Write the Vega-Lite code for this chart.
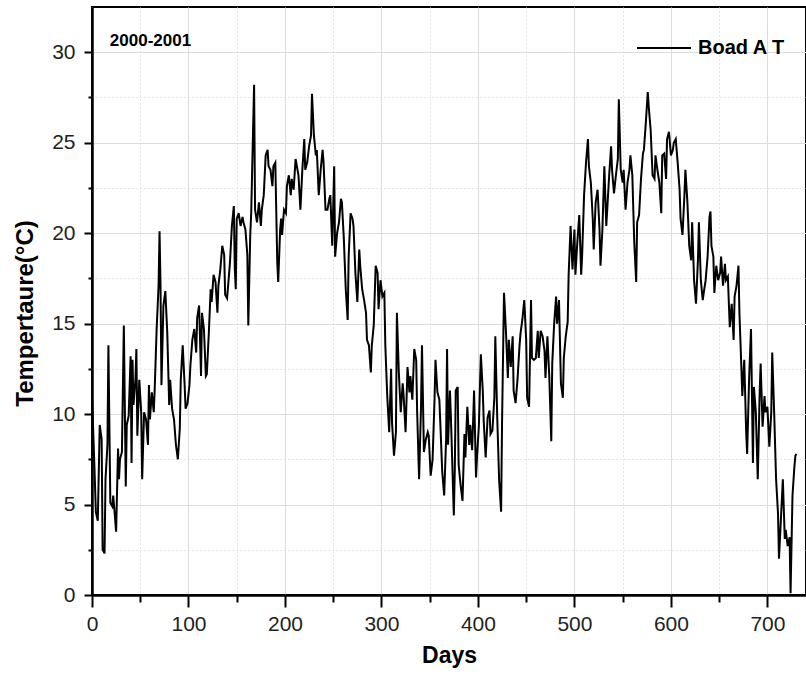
{
  "$schema": "https://vega.github.io/schema/vega-lite/v6.json",
  "width": 714,
  "height": 588,
  "autosize": {"type": "none"},
  "padding": {"left": 92, "top": 7, "right": 0, "bottom": 80},
  "background": "white",
  "config": {
    "view": {"stroke": "black", "strokeWidth": 2},
    "font": "Liberation Sans"
  },
  "layer": [
    {
      "data": {"values": [
        {"d":0,"t":11.0},{"d":2,"t":7.9},{"d":4,"t":4.6},{"d":6,"t":4.1},{"d":8,"t":9.4},{"d":10,"t":8.6},{"d":11,"t":2.5},{"d":13,"t":2.3},{"d":14,"t":6.4},{"d":16,"t":8.3},{"d":17,"t":13.8},{"d":19,"t":5.1},{"d":21,"t":4.9},{"d":22,"t":5.5},{"d":25,"t":3.5},{"d":27,"t":8.1},{"d":28,"t":6.4},{"d":29,"t":7.5},{"d":31,"t":7.9},{"d":33,"t":14.9},{"d":35,"t":6.0},{"d":36,"t":9.4},{"d":38,"t":9.9},{"d":40,"t":13.2},{"d":41,"t":7.3},{"d":42,"t":13.0},{"d":43,"t":10.5},{"d":45,"t":11.9},{"d":46,"t":13.6},{"d":47,"t":8.8},{"d":49,"t":11.9},{"d":51,"t":10.1},{"d":52,"t":6.4},{"d":54,"t":10.1},{"d":56,"t":9.7},{"d":58,"t":8.3},{"d":59,"t":11.6},{"d":60,"t":9.7},{"d":62,"t":11.2},{"d":64,"t":10.1},{"d":65,"t":11.4},{"d":67,"t":14.7},{"d":69,"t":17.1},{"d":70,"t":20.1},{"d":71,"t":17.1},{"d":72,"t":11.6},{"d":74,"t":16.0},{"d":75,"t":16.4},{"d":76,"t":16.8},{"d":78,"t":14.5},{"d":80,"t":10.5},{"d":81,"t":11.9},{"d":83,"t":10.3},{"d":85,"t":9.7},{"d":87,"t":8.3},{"d":89,"t":7.5},{"d":91,"t":9.2},{"d":92,"t":11.9},{"d":94,"t":13.8},{"d":96,"t":11.6},{"d":97,"t":10.3},{"d":99,"t":10.6},{"d":101,"t":11.6},{"d":102,"t":12.7},{"d":104,"t":14.1},{"d":106,"t":14.7},{"d":108,"t":13.4},{"d":109,"t":15.3},{"d":111,"t":16.0},{"d":113,"t":12.1},{"d":114,"t":15.6},{"d":116,"t":14.7},{"d":118,"t":12.1},
        {"d":119,"t":12.2},{"d":121,"t":14.4},{"d":123,"t":16.9},{"d":124,"t":16.2},{"d":126,"t":17.7},{"d":128,"t":17.3},{"d":130,"t":15.6},{"d":131,"t":17.1},{"d":133,"t":18.0},{"d":135,"t":19.3},{"d":137,"t":18.8},{"d":138,"t":16.6},{"d":140,"t":16.4},{"d":142,"t":17.7},{"d":143,"t":18.4},{"d":145,"t":20.4},{"d":147,"t":21.5},{"d":148,"t":18.0},{"d":149,"t":16.9},{"d":150,"t":20.8},{"d":152,"t":21.1},{"d":154,"t":20.4},{"d":156,"t":20.9},{"d":157,"t":20.6},{"d":159,"t":20.2},{"d":161,"t":18.8},{"d":162,"t":14.9},{"d":164,"t":19.9},{"d":165,"t":21.1},{"d":166,"t":23.5},{"d":168,"t":28.2},{"d":169,"t":21.3},{"d":171,"t":20.6},{"d":173,"t":21.7},{"d":175,"t":20.4},{"d":176,"t":21.3},{"d":178,"t":22.1},{"d":180,"t":24.3},{"d":182,"t":24.6},{"d":183,"t":23.7},{"d":185,"t":23.5},{"d":187,"t":22.6},{"d":188,"t":23.7},{"d":190,"t":23.9},{"d":192,"t":18.4},{"d":193,"t":17.3},{"d":195,"t":20.2},{"d":196,"t":20.8},{"d":197,"t":19.9},{"d":199,"t":21.3},{"d":201,"t":21.1},{"d":202,"t":22.6},{"d":204,"t":23.2},{"d":206,"t":22.1},{"d":207,"t":23.0},{"d":209,"t":22.4},{"d":211,"t":24.1},{"d":213,"t":23.5},{"d":214,"t":23.2},{"d":216,"t":21.3},{"d":218,"t":23.5},{"d":220,"t":25.2},{"d":221,"t":23.5},{"d":223,"t":23.9},{"d":225,"t":24.8},{"d":227,"t":25.4},{"d":228,"t":27.7},{"d":230,"t":25.4},{"d":232,"t":24.3},{"d":233,"t":24.6},{"d":235,"t":22.1},{"d":237,"t":23.5},{"d":239,"t":24.6},{"d":240,"t":23.9},{"d":242,"t":21.3},
        {"d":244,"t":21.3},{"d":246,"t":21.9},{"d":247,"t":22.1},{"d":249,"t":19.3},{"d":251,"t":23.7},{"d":252,"t":18.7},{"d":254,"t":20.0},{"d":256,"t":20.6},{"d":258,"t":21.9},{"d":259,"t":21.7},{"d":261,"t":19.7},{"d":263,"t":16.9},{"d":265,"t":15.2},{"d":266,"t":18.7},{"d":268,"t":21.1},{"d":270,"t":20.8},{"d":271,"t":20.4},{"d":273,"t":17.8},{"d":275,"t":16.2},{"d":277,"t":19.1},{"d":278,"t":18.2},{"d":280,"t":16.9},{"d":282,"t":16.3},{"d":284,"t":15.6},{"d":285,"t":14.1},{"d":287,"t":13.8},{"d":289,"t":12.3},{"d":290,"t":13.8},{"d":292,"t":14.9},{"d":294,"t":18.2},{"d":296,"t":17.8},{"d":297,"t":15.8},{"d":299,"t":17.4},{"d":301,"t":16.5},{"d":303,"t":16.7},{"d":304,"t":13.8},{"d":306,"t":11.0},{"d":308,"t":9.0},{"d":310,"t":12.5},{"d":311,"t":9.5},{"d":313,"t":7.7},{"d":315,"t":9.0},{"d":316,"t":15.6},{"d":318,"t":12.3},{"d":320,"t":10.1},{"d":322,"t":11.7},{"d":323,"t":11.0},{"d":325,"t":9.0},{"d":327,"t":12.6},{"d":329,"t":11.2},{"d":330,"t":12.1},{"d":332,"t":10.8},{"d":334,"t":13.6},{"d":336,"t":13.0},{"d":337,"t":10.1},{"d":339,"t":6.4},{"d":341,"t":10.4},{"d":342,"t":13.8},{"d":344,"t":7.9},{"d":346,"t":8.6},{"d":348,"t":9.0},{"d":349,"t":8.8},{"d":351,"t":6.6},{"d":353,"t":7.5},{"d":355,"t":10.8},{"d":356,"t":13.0},{"d":358,"t":11.2},{"d":360,"t":10.8},{"d":361,"t":9.5},{"d":363,"t":6.8},{"d":365,"t":5.5},{"d":367,"t":8.6},{"d":368,"t":13.6},{"d":369,"t":8.3},{"d":371,"t":11.3},{"d":372,"t":9.8},
        {"d":375,"t":4.4},{"d":376,"t":6.9},{"d":377,"t":11.3},{"d":379,"t":11.5},{"d":380,"t":7.2},{"d":382,"t":6.1},{"d":384,"t":5.2},{"d":386,"t":8.9},{"d":387,"t":7.6},{"d":389,"t":10.4},{"d":391,"t":8.3},{"d":392,"t":9.4},{"d":394,"t":8.0},{"d":396,"t":11.3},{"d":398,"t":6.5},{"d":399,"t":7.6},{"d":401,"t":9.4},{"d":403,"t":13.3},{"d":405,"t":11.3},{"d":406,"t":9.6},{"d":408,"t":7.6},{"d":410,"t":9.8},{"d":412,"t":10.2},{"d":413,"t":8.9},{"d":415,"t":9.1},{"d":417,"t":10.9},{"d":418,"t":14.3},{"d":420,"t":9.8},{"d":422,"t":6.3},{"d":424,"t":4.6},{"d":425,"t":9.6},{"d":427,"t":16.7},{"d":429,"t":14.6},{"d":431,"t":12.0},{"d":432,"t":14.1},{"d":434,"t":12.6},{"d":436,"t":14.3},{"d":437,"t":11.3},{"d":439,"t":10.6},{"d":441,"t":11.9},{"d":443,"t":13.7},{"d":444,"t":14.4},{"d":446,"t":15.2},{"d":448,"t":16.3},{"d":450,"t":14.1},{"d":451,"t":10.9},{"d":453,"t":10.4},{"d":455,"t":16.3},{"d":456,"t":13.1},{"d":458,"t":13.0},{"d":460,"t":13.1},{"d":462,"t":14.6},{"d":463,"t":13.1},{"d":465,"t":14.6},{"d":467,"t":14.3},{"d":469,"t":13.5},{"d":470,"t":12.0},{"d":472,"t":14.3},{"d":474,"t":12.0},{"d":476,"t":8.5},{"d":477,"t":12.8},{"d":479,"t":15.0},{"d":481,"t":16.5},{"d":482,"t":15.0},{"d":484,"t":16.3},{"d":486,"t":11.7},{"d":488,"t":10.9},{"d":489,"t":13.1},{"d":491,"t":14.3},
        {"d":493,"t":15.1},{"d":494,"t":17.7},{"d":496,"t":20.4},{"d":498,"t":18.0},{"d":500,"t":20.2},{"d":501,"t":17.7},{"d":503,"t":19.5},{"d":505,"t":21.0},{"d":507,"t":17.7},{"d":508,"t":18.8},{"d":510,"t":22.1},{"d":512,"t":23.9},{"d":514,"t":25.2},{"d":515,"t":23.7},{"d":517,"t":22.8},{"d":519,"t":20.8},{"d":520,"t":19.1},{"d":522,"t":21.7},{"d":524,"t":22.4},{"d":526,"t":20.2},{"d":527,"t":18.2},{"d":529,"t":20.2},{"d":531,"t":23.7},{"d":533,"t":20.4},{"d":534,"t":21.3},{"d":536,"t":23.2},{"d":538,"t":24.8},{"d":539,"t":23.5},{"d":541,"t":22.2},{"d":543,"t":23.2},{"d":545,"t":24.1},{"d":546,"t":27.4},{"d":548,"t":23.5},{"d":550,"t":22.8},{"d":551,"t":23.5},{"d":553,"t":21.3},{"d":555,"t":22.8},{"d":557,"t":23.5},{"d":558,"t":24.3},{"d":560,"t":23.2},{"d":562,"t":19.5},{"d":564,"t":17.3},{"d":565,"t":20.6},{"d":567,"t":21.0},{"d":569,"t":23.0},{"d":571,"t":24.4},{"d":572,"t":24.6},{"d":574,"t":26.1},{"d":576,"t":27.8},{"d":577,"t":27.0},{"d":579,"t":25.7},{"d":581,"t":23.2},{"d":583,"t":23.0},{"d":584,"t":24.3},{"d":586,"t":23.5},{"d":588,"t":22.8},{"d":590,"t":21.1},{"d":591,"t":24.3},{"d":593,"t":24.4},{"d":595,"t":23.0},{"d":596,"t":25.2},{"d":598,"t":25.6},{"d":600,"t":24.3},{"d":602,"t":24.6},{"d":603,"t":25.0},{"d":605,"t":25.2},{"d":607,"t":23.9},{"d":609,"t":22.4},{"d":610,"t":20.8},{"d":612,"t":19.9},{"d":614,"t":22.1},{"d":615,"t":23.5},
        {"d":617,"t":21.8},{"d":619,"t":19.3},{"d":621,"t":18.5},{"d":622,"t":20.6},{"d":624,"t":17.4},{"d":626,"t":16.1},{"d":628,"t":18.5},{"d":629,"t":20.6},{"d":631,"t":17.4},{"d":633,"t":16.3},{"d":634,"t":16.7},{"d":636,"t":17.4},{"d":638,"t":18.7},{"d":640,"t":20.9},{"d":641,"t":21.2},{"d":642,"t":19.3},{"d":644,"t":18.7},{"d":645,"t":16.7},{"d":647,"t":18.2},{"d":649,"t":17.4},{"d":651,"t":17.8},{"d":652,"t":18.7},{"d":654,"t":17.1},{"d":656,"t":18.3},{"d":657,"t":17.4},{"d":659,"t":17.6},{"d":661,"t":14.8},{"d":663,"t":16.1},{"d":665,"t":14.1},{"d":666,"t":16.5},{"d":668,"t":17.1},{"d":670,"t":18.2},{"d":671,"t":15.6},{"d":673,"t":12.6},{"d":674,"t":11.0},{"d":676,"t":13.0},{"d":678,"t":9.0},{"d":679,"t":7.8},{"d":681,"t":11.9},{"d":683,"t":14.7},{"d":685,"t":7.3},{"d":686,"t":11.5},{"d":688,"t":10.1},{"d":690,"t":6.4},{"d":692,"t":11.2},{"d":693,"t":12.8},{"d":695,"t":9.3},{"d":697,"t":11.0},{"d":698,"t":10.1},{"d":700,"t":10.4},{"d":702,"t":8.2},{"d":704,"t":10.1},{"d":705,"t":13.4},{"d":707,"t":10.1},{"d":709,"t":6.4},{"d":711,"t":4.5},{"d":712,"t":2.0},{"d":714,"t":4.2},{"d":716,"t":6.4},{"d":718,"t":3.1},{"d":719,"t":3.6},{"d":721,"t":2.7},{"d":723,"t":3.2},{"d":724,"t":0.1},{"d":726,"t":5.5},{"d":728,"t":7.1},{"d":729,"t":7.7},{"d":730,"t":7.8}
      ]},
      "mark": {"type": "line", "color": "black", "strokeWidth": 2, "clip": true},
      "encoding": {
        "x": {
          "field": "d", "type": "quantitative",
          "scale": {"domain": [0, 740], "nice": false, "zero": false},
          "axis": {
            "title": "Days",
            "values": [0,50,100,150,200,250,300,350,400,450,500,550,600,650,700],
            "labelExpr": "datum.value % 100 === 0 ? datum.label : ''",
            "labelOverlap": false,
            "labelFlush": false,
            "labelFont": "Liberation Sans",
            "labelFontSize": 21,
            "labelColor": "#222",
            "labelPadding": 6,
            "tickSize": {"condition": {"test": "datum.value % 100 === 0", "value": 12}, "value": 7},
            "tickColor": "black",
            "tickWidth": 2,
            "domainColor": "black",
            "domainWidth": 2.5,
            "grid": true,
            "gridColor": {"condition": {"test": "datum.value % 100 === 0", "value": "#dcdcdc"}, "value": "#cfcfcf"},
            "gridDash": {"condition": {"test": "datum.value % 100 === 0", "value": []}, "value": [1, 3]},
            "gridWidth": 1,
            "titleFont": "Liberation Sans",
            "titleFontSize": 23,
            "titleFontWeight": "bold",
            "titleColor": "black",
            "titlePadding": 10
          }
        },
        "y": {
          "field": "t", "type": "quantitative",
          "scale": {"domain": [0, 32.5], "nice": false, "zero": false},
          "axis": {
            "title": "Tempertaure(°C)",
            "values": [0,2.5,5,7.5,10,12.5,15,17.5,20,22.5,25,27.5,30],
            "labelExpr": "datum.value % 5 === 0 ? datum.label : ''",
            "labelOverlap": false,
            "labelFlush": false,
            "labelFont": "Liberation Sans",
            "labelFontSize": 21,
            "labelColor": "#222",
            "labelPadding": 9,
            "tickSize": {"condition": {"test": "datum.value % 5 === 0", "value": 8}, "value": 4},
            "tickColor": "black",
            "tickWidth": 2,
            "domainColor": "black",
            "domainWidth": 2.5,
            "grid": true,
            "gridColor": {"condition": {"test": "datum.value % 5 === 0", "value": "#dcdcdc"}, "value": "#cfcfcf"},
            "gridDash": {"condition": {"test": "datum.value % 5 === 0", "value": []}, "value": [1, 3]},
            "gridWidth": 1,
            "titleFont": "Liberation Sans",
            "titleFontSize": 24,
            "titleFontWeight": "bold",
            "titleColor": "black",
            "titlePadding": 14,
            "titleY": 306
          }
        },
        "color": {
          "datum": "Boad A T",
          "scale": {"range": ["black"]},
          "legend": {
            "orient": "none",
            "legendX": 544,
            "legendY": 13,
            "title": null,
            "padding": 0,
            "symbolType": "stroke",
            "symbolSize": 2916,
            "symbolStrokeWidth": 2,
            "symbolStrokeColor": "black",
            "labelFont": "Liberation Sans",
            "labelFontSize": 20,
            "labelFontWeight": "bold",
            "labelColor": "black",
            "labelOffset": 6
          }
        }
      }
    },
    {
      "data": {"values": [{"label": "2000-2001", "d": 18.5, "t": 30.35}]},
      "mark": {"type": "text", "align": "left", "baseline": "alphabetic", "font": "Liberation Sans", "fontSize": 17, "fontWeight": "bold", "color": "black"},
      "encoding": {
        "x": {"field": "d", "type": "quantitative"},
        "y": {"field": "t", "type": "quantitative"},
        "text": {"field": "label", "type": "nominal"}
      }
    }
  ]
}
